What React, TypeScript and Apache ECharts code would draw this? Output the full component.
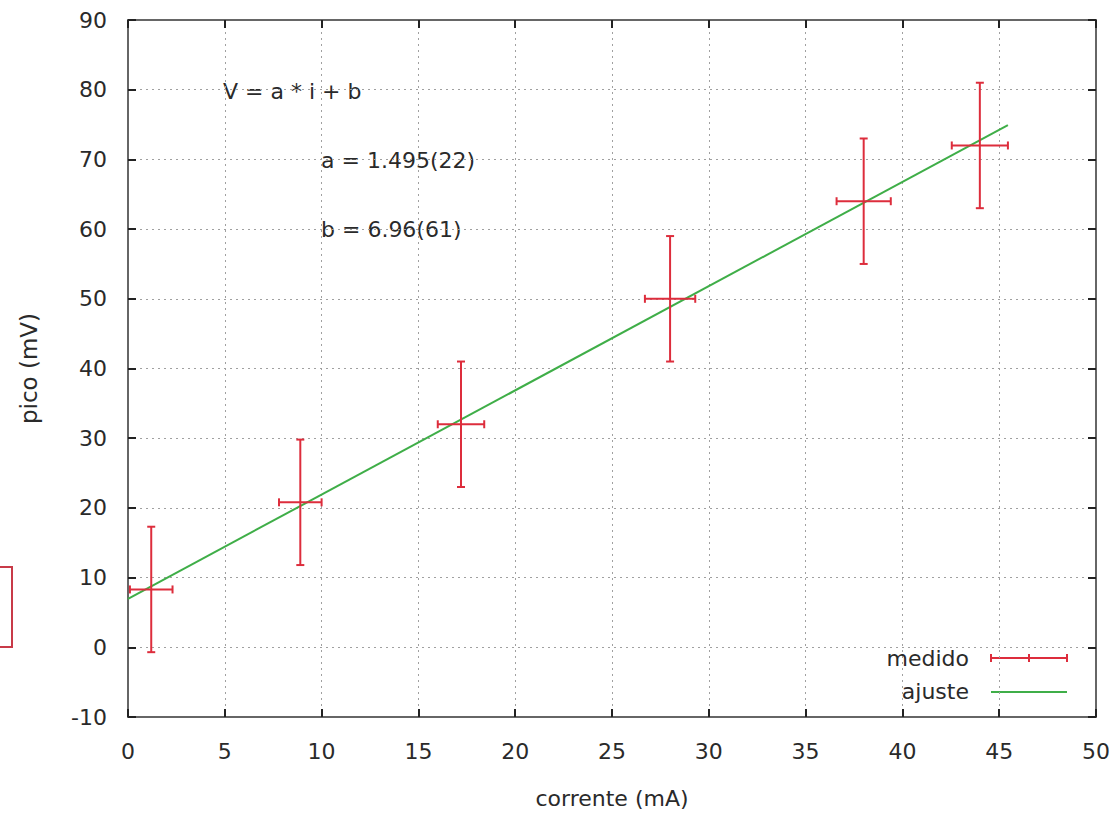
import React, { useEffect, useRef } from "react";
import * as echarts from "echarts";

const currentMA = [1.2, 8.9, 17.2, 28.0, 38.0, 44.0];
const currentErr = [1.1, 1.1, 1.2, 1.3, 1.4, 1.45];
const peakMV = [8.3, 20.8, 32.0, 50.0, 64.0, 72.0];
const peakErr = [9, 9, 9, 9, 9, 9];

// fitted line end points
const fitX = [0, 45.45];
const fitY = [6.96, 74.91];

const fitLabels = ["V = a * i + b", "a = 1.495(22)", "b = 6.96(61)"];
const legendNames = ["medido", "ajuste"];

const RED = "#dd2d3c";
const GREEN = "#3fae48";
const TEXT = "#2a2a2a";
const FONT = '"DejaVu Sans", "Liberation Sans", sans-serif';
const FS = 22;

export default function App() {
  const ref = useRef<HTMLDivElement>(null);

  useEffect(() => {
    if (!ref.current) return;
    const chart = echarts.init(ref.current, null, { renderer: "svg" });

    const errData = currentMA.map((x, i) => [x, peakMV[i], currentErr[i], peakErr[i]]);
    const fitData = fitX.map((x, i) => [x, fitY[i]]);

    const axisCommon = {
      type: "value",
      axisLine: { show: true, onZero: false, lineStyle: { color: "#666", width: 2 } },
      axisTick: { show: true, inside: true, length: 8, lineStyle: { color: "#222", width: 2 } },
    };

    const txt = (text: string, x: number, y: number, align = "left") => ({
      type: "text",
      x,
      y,
      style: { text, fill: TEXT, fontSize: FS, fontFamily: FONT, align, verticalAlign: "middle" },
    });

    const option: any = {
      animation: false,
      backgroundColor: "#ffffff",
      grid: { left: 128, right: 12, top: 20, bottom: 97, containLabel: false },
      xAxis: [
        {
          ...axisCommon,
          position: "bottom",
          min: 0,
          max: 50,
          interval: 5,
          name: "corrente (mA)",
          nameLocation: "middle",
          nameGap: 70,
          nameTextStyle: { color: TEXT, fontSize: FS, fontFamily: FONT },
          axisLabel: { color: TEXT, fontSize: FS, fontFamily: FONT, margin: 23 },
          splitLine: { show: true, lineStyle: { color: "#a0a0a0", type: [2, 4], width: 1 } },
        },
        {
          ...axisCommon,
          position: "top",
          min: 0,
          max: 50,
          interval: 5,
          axisLabel: { show: false },
          splitLine: { show: false },
        },
      ],
      yAxis: [
        {
          ...axisCommon,
          position: "left",
          min: -10,
          max: 90,
          interval: 10,
          name: "pico (mV)",
          nameLocation: "middle",
          nameGap: 88,
          nameRotate: 90,
          nameTextStyle: { color: TEXT, fontSize: 23, fontFamily: FONT },
          axisLabel: { color: TEXT, fontSize: FS, fontFamily: FONT, margin: 21 },
          splitLine: { show: true, lineStyle: { color: "#a0a0a0", type: [2, 4], width: 1 } },
        },
        {
          ...axisCommon,
          position: "right",
          min: -10,
          max: 90,
          interval: 10,
          axisLabel: { show: false },
          splitLine: { show: false },
        },
      ],
      series: [
        {
          name: "ajuste",
          type: "line",
          xAxisIndex: 0,
          yAxisIndex: 0,
          data: fitData,
          showSymbol: false,
          symbol: "none",
          lineStyle: { color: GREEN, width: 2 },
          z: 3,
        },
        {
          name: "medido",
          type: "custom",
          xAxisIndex: 0,
          yAxisIndex: 0,
          data: errData,
          z: 4,
          renderItem: (params: any, api: any) => {
            const x = api.value(0);
            const y = api.value(1);
            const xe = api.value(2);
            const ye = api.value(3);
            const l = api.coord([x - xe, y]);
            const r = api.coord([x + xe, y]);
            const t = api.coord([x, y + ye]);
            const b = api.coord([x, y - ye]);
            const cap = 4;
            const st = { stroke: RED, lineWidth: 2 };
            const mk = (x1: number, y1: number, x2: number, y2: number) => ({
              type: "line",
              shape: { x1, y1, x2, y2 },
              style: st,
            });
            return {
              type: "group",
              children: [
                mk(l[0], l[1], r[0], r[1]),
                mk(l[0], l[1] - cap, l[0], l[1] + cap),
                mk(r[0], r[1] - cap, r[0], r[1] + cap),
                mk(t[0], t[1], b[0], b[1]),
                mk(t[0] - cap, t[1], t[0] + cap, t[1]),
                mk(b[0] - cap, b[1], b[0] + cap, b[1]),
              ],
            };
          },
        },
      ],
      graphic: [
        txt(fitLabels[0], 223, 91),
        txt(fitLabels[1], 321, 160),
        txt(fitLabels[2], 321, 229),
        // legend
        txt(legendNames[0], 969, 658, "right"),
        { type: "line", shape: { x1: 991, y1: 658, x2: 1067, y2: 658 }, style: { stroke: RED, lineWidth: 2 } },
        { type: "line", shape: { x1: 991, y1: 654, x2: 991, y2: 662 }, style: { stroke: RED, lineWidth: 2 } },
        { type: "line", shape: { x1: 1029, y1: 654, x2: 1029, y2: 662 }, style: { stroke: RED, lineWidth: 2 } },
        { type: "line", shape: { x1: 1067, y1: 654, x2: 1067, y2: 662 }, style: { stroke: RED, lineWidth: 2 } },
        txt(legendNames[1], 969, 691, "right"),
        { type: "line", shape: { x1: 991, y1: 692, x2: 1067, y2: 692 }, style: { stroke: GREEN, lineWidth: 2 } },
        // partial red frame at the left edge
        {
          type: "rect",
          shape: { x: -10, y: 567, width: 22, height: 80 },
          style: { fill: "none", stroke: "#c83a48", lineWidth: 2 },
        },
      ],
    };

    chart.setOption(option);
    return () => chart.dispose();
  }, []);

  return (
    <div
      ref={ref}
      style={{ position: "fixed", left: 0, top: 0, width: 1113, height: 814, background: "#fff" }}
    />
  );
}
